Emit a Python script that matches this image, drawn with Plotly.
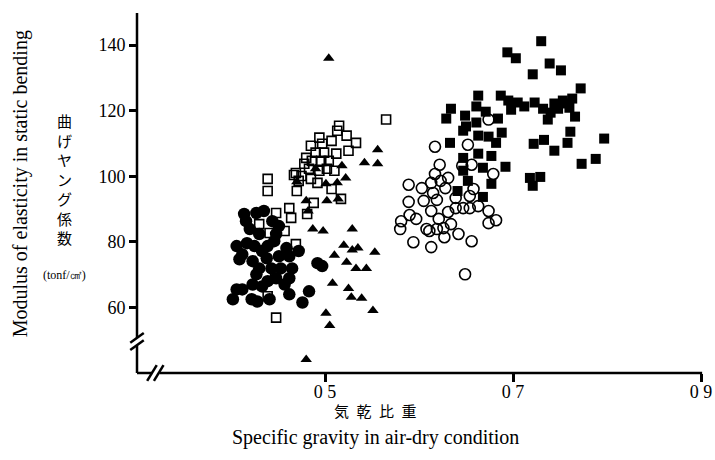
import plotly.graph_objects as go

# ---- data (specific gravity, MOE tonf/cm2) ----
fc_x = [0.416,0.427,0.435,0.444,0.420,0.451,0.406,0.417,0.433,0.446,0.459,0.472,0.409,0.423,0.438,0.462,
        0.492,0.497,0.427,0.443,0.453,0.465,0.423,0.439,0.457,0.406,0.412,0.402,0.422,0.428,0.441,0.462,
        0.476,0.483,0.414,0.448,0.430,0.448,0.462,0.412,0.430,0.425,0.439,0.451,0.433]
fc_y = [86.3,88.8,89.4,86.3,83.9,84.8,78.7,79.6,77.2,80.2,78.1,77.2,74.7,74.1,75.0,75.6,
        73.5,72.6,70.1,71.9,71.9,71.9,67.0,68.0,67.0,65.5,65.5,62.5,62.5,61.8,62.5,64.0,
        61.5,64.9,88.5,82.4,82.4,68.9,68.9,76.2,71.9,78.7,78.7,75.6,66.4]

os_x = [0.565,0.515,0.513,0.523,0.533,0.525,0.494,0.507,0.485,0.497,0.490,0.499,0.512,0.480,0.486,0.496,
        0.504,0.478,0.483,0.494,0.502,0.510,0.469,0.467,0.475,0.485,0.492,0.472,0.439,0.439,0.470,0.507,
        0.517,0.488,0.462,0.448,0.481,0.464,0.430,0.441,0.457,0.469,0.447,0.439,0.448]
os_y = [117.3,115.4,113.9,112.4,110.2,107.8,111.8,110.8,109.3,109.9,107.2,107.2,106.9,105.6,104.7,104.7,
        104.7,103.8,102.3,101.7,102.3,101.7,101.0,100.4,100.1,99.2,98.0,98.6,99.2,95.5,95.5,96.1,
        93.1,91.9,90.3,88.8,88.5,87.3,85.4,82.7,83.3,79.3,68.9,63.4,56.9]

tr_x = [0.504,0.556,0.542,0.556,0.518,0.490,0.522,0.513,0.501,0.470,0.480,0.502,0.514,0.482,0.487,0.498,
        0.529,0.520,0.529,0.535,0.553,0.510,0.523,0.533,0.544,0.508,0.525,0.528,0.539,0.551,0.501,0.505,0.480]
tr_y = [136.0,108.1,104.1,103.8,103.2,102.3,99.5,98.0,97.7,98.3,92.5,92.5,93.1,89.4,83.9,83.3,
        83.9,79.0,77.5,78.1,76.8,75.9,73.8,71.9,71.9,67.4,65.8,63.1,62.8,59.1,58.2,54.5,44.1]

oc_x = [0.674,0.617,0.652,0.622,0.617,0.631,0.646,0.656,0.679,0.589,0.603,0.613,0.623,0.615,0.605,0.589,
        0.619,0.613,0.631,0.639,0.647,0.654,0.663,0.674,0.590,0.597,0.581,0.580,0.608,0.611,0.621,0.626,
        0.619,0.634,0.674,0.682,0.627,0.642,0.656,0.594,0.613,0.649,0.658,0.654,0.628,0.639]
oc_y = [117.3,109.0,109.6,103.5,100.7,99.5,103.2,103.5,100.7,97.4,96.4,98.0,98.6,94.9,92.5,92.2,
        92.8,89.4,89.1,90.3,90.3,90.3,90.9,89.4,88.2,87.0,86.3,83.9,83.9,83.3,87.0,84.2,
        83.9,85.4,85.7,86.6,81.4,82.4,80.2,79.9,78.4,70.1,96.1,94.0,96.4,93.4]

fs_x = [0.730,0.694,0.703,0.739,0.751,0.721,0.772,0.687,0.663,0.695,0.705,0.698,0.712,0.723,0.744,0.753,
        0.763,0.740,0.760,0.766,0.737,0.634,0.629,0.649,0.661,0.671,0.661,0.650,0.647,0.688,0.663,0.674,
        0.682,0.633,0.722,0.733,0.744,0.758,0.761,0.797,0.788,0.773,0.718,0.729,0.721,0.663,0.677,0.668,
        0.647,0.692,0.647,0.677,0.641,0.668,0.652,0.684,0.748,0.756,0.732]
fs_y = [141.2,137.8,136.0,134.4,132.3,131.1,126.8,124.6,124.6,123.1,122.5,120.3,121.3,122.5,122.2,123.1,
        123.7,119.4,120.9,118.2,117.3,120.6,117.6,118.5,121.3,119.7,116.4,115.2,113.9,113.3,112.4,112.1,
        110.2,110.2,109.9,111.1,107.8,110.2,113.6,111.5,105.3,103.8,99.5,99.8,97.1,106.9,106.2,102.6,
        105.6,102.9,101.7,97.7,95.5,93.7,98.6,117.6,120.6,122.2,120.6]

x_ticks = [0.5, 0.7, 0.9]
x_ticktext = ["0 5", "0 7", "0 9"]
y_ticks = [60, 80, 100, 120, 140]

SERIF = "Liberation Serif, Times New Roman, serif"
CJK = "Noto Sans CJK JP"

fig = go.Figure()
fig.add_trace(go.Scatter(x=fc_x, y=fc_y, mode="markers",
                         marker=dict(symbol="circle", size=12.5, color="black")))
fig.add_trace(go.Scatter(x=os_x, y=os_y, mode="markers",
                         marker=dict(symbol="square-open", size=9, color="black", line=dict(width=1.6))))
fig.add_trace(go.Scatter(x=tr_x, y=tr_y, mode="markers",
                         marker=dict(symbol="triangle-up", size=10, color="black")))
fig.add_trace(go.Scatter(x=oc_x, y=oc_y, mode="markers",
                         marker=dict(symbol="circle-open", size=11, color="black", line=dict(width=1.6))))
fig.add_trace(go.Scatter(x=fs_x, y=fs_y, mode="markers",
                         marker=dict(symbol="square", size=10, color="black")))

# axis lines with break marks (paper coordinates)
L = dict(color="black", width=2.5)
shapes = [
    dict(type="line", xref="paper", yref="paper", x0=0, x1=0, y0=0.097, y1=1, line=L),
    dict(type="line", xref="paper", yref="paper", x0=-0.012, x1=0.012, y0=0.084, y1=0.111, line=L),
    dict(type="line", xref="paper", yref="paper", x0=-0.012, x1=0.012, y0=0.064, y1=0.091, line=L),
    dict(type="line", xref="paper", yref="paper", x0=0, x1=0, y0=0, y1=0.078, line=L),
    dict(type="line", xref="paper", yref="paper", x0=0, x1=0.0265, y0=0, y1=0, line=L),
    dict(type="line", xref="paper", yref="paper", x0=0.018, x1=0.035, y0=-0.022, y1=0.022, line=L),
    dict(type="line", xref="paper", yref="paper", x0=0.030, x1=0.047, y0=-0.022, y1=0.022, line=L),
    dict(type="line", xref="paper", yref="paper", x0=0.040, x1=1.002, y0=0, y1=0, line=L),
]

A = dict(xref="paper", yref="paper", showarrow=False, xanchor="center", yanchor="middle")
annotations = [
    dict(text="Modulus of elasticity in static bending", textangle=-90, x=-0.207, y=0.525,
         font=dict(family=SERIF, size=20, color="black"), **A),
    dict(text="<br>".join(list("曲げヤング係数")), x=-0.129, y=0.54,
         font=dict(family=CJK, size=15, color="black"), **A),
    dict(text="(tonf/㎠)", x=-0.128, y=0.272,
         font=dict(family=SERIF, size=12, color="black"), **A),
    dict(text="気\u2002乾\u2002比\u2002重", x=0.422, y=-0.103,
         font=dict(family=CJK, size=15, color="black"), **A),
    dict(text="Specific gravity in air-dry condition", x=0.422, y=-0.178,
         font=dict(family=SERIF, size=20, color="black"), **A),
]

fig.update_layout(
    width=715, height=460,
    margin=dict(l=137, r=14, t=13, b=87, autoexpand=False),
    paper_bgcolor="white", plot_bgcolor="white",
    showlegend=False,
    shapes=shapes, annotations=annotations,
    xaxis=dict(range=[0.3, 0.9], tickvals=x_ticks, ticktext=x_ticktext, ticks="outside",
               ticklen=8, tickwidth=2.5, tickcolor="black", showline=False, showgrid=False,
               zeroline=False, ticklabelstandoff=-6, ticklabeloverflow="allow", automargin=False,
               tickfont=dict(family=SERIF, size=18, color="black")),
    yaxis=dict(range=[40, 149.8], tickvals=y_ticks, ticks="outside",
               ticklen=7, tickwidth=2.5, tickcolor="black", showline=False, showgrid=False,
               zeroline=False, automargin=False,
               tickfont=dict(family=SERIF, size=18, color="black")),
)

fig.write_html("out.html", config={"displayModeBar": False},
               post_script="document.body.style.margin='0';document.body.style.overflow='hidden';")
